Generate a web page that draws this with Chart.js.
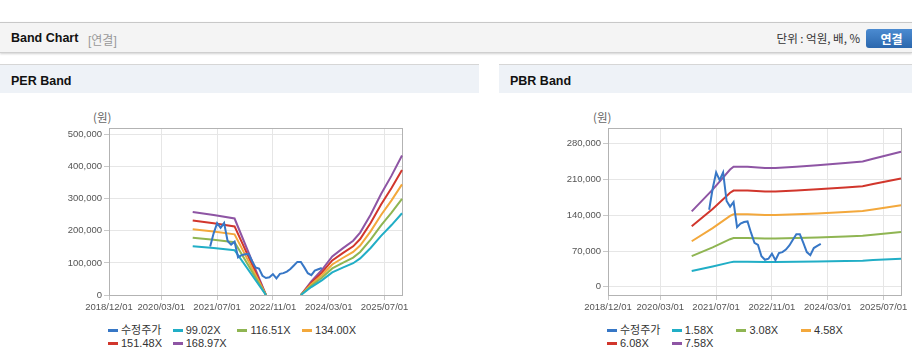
<!DOCTYPE html>
<html><head><meta charset="utf-8">
<script src="https://cdn.jsdelivr.net/npm/chart.js@4.4.1/dist/chart.umd.min.js"></script>
<style>
html,body{margin:0;padding:0;background:#fff;}
body{width:912px;height:364px;overflow:hidden;position:relative;font-family:'Liberation Sans',Arial,'Noto Sans CJK KR',sans-serif;color:#333;}
.abs{position:absolute;}
#topbar{left:0;top:22px;width:912px;height:29px;background:#f4f4f4;border-top:1px solid #c8c8c8;border-bottom:1px solid #cfcfcf;box-shadow:0 1px 2px rgba(0,0,0,0.18);}
.ttl{font-weight:bold;font-size:12.5px;color:#111;white-space:nowrap;}
.sub{font-size:12px;color:#999;white-space:nowrap;}
.unit{font-size:12px;color:#333;white-space:nowrap;}
#btn{left:866px;top:29px;width:51px;height:19px;border-radius:3px;background:linear-gradient(#4b8bd1,#2b67ad);color:#fff;font-weight:bold;font-size:12px;line-height:19px;text-align:center;font-family:'Noto Sans CJK KR',sans-serif;}
.phead{top:64px;height:28px;background:#eef2f7;border-top:1px solid #d6d6d6;}
.won{font-size:11.5px;color:#666;white-space:nowrap;font-family:'Noto Sans CJK KR',sans-serif;}
.legend{font-size:11px;color:#333;}
.legend .it{float:left;width:64.7px;height:13.3px;line-height:13.3px;white-space:nowrap;position:relative;}
.legend .mk{position:absolute;left:0;top:5px;width:10px;height:3px;}
.legend .tx{position:absolute;left:13px;top:0;}
</style></head>
<body>
<div id="topbar" class="abs">
  <span class="abs ttl" style="left:11px;top:8px;">Band Chart</span>
  <span class="abs sub" style="left:88px;top:8px;">[연결]</span>
  <span class="abs unit" style="right:52px;top:7px;font-family:'Noto Sans CJK KR',sans-serif;font-size:11.5px;">단위 : 억원, 배, %</span>
</div>
<div id="btn" class="abs">연결</div>

<div class="abs phead" style="left:0;width:479px;"><span class="abs ttl" style="left:11px;top:9px;">PER Band</span></div>
<div class="abs phead" style="left:499px;width:413px;"><span class="abs ttl" style="left:11px;top:9px;">PBR Band</span></div>

<span class="abs won" style="left:93px;top:109px;">(원)</span>
<span class="abs won" style="left:593px;top:109px;">(원)</span>

<canvas id="perChart" class="abs" width="479" height="230" style="left:0;top:93px;width:479px;height:230px;"></canvas>
<canvas id="pbrChart" class="abs" width="413" height="230" style="left:499px;top:93px;width:413px;height:230px;"></canvas>

<div id="perLegend" class="abs legend" style="left:108px;top:323.5px;width:262px;"></div>
<div id="pbrLegend" class="abs legend" style="left:607px;top:323.5px;width:262px;"></div>

<script>
// ---------- categories ----------
const firstMonth = [2018, 12];
const monthCount = 85; // 2018/12 .. 2025/12
const months = [];
for (let y = firstMonth[0], m = firstMonth[1]; months.length < monthCount;) {
  months.push(y + '/' + String(m).padStart(2, '0') + '/01');
  m++; if (m > 12) { m = 1; y++; }
}
const xTickLabels = ['2018/12/01', '2020/03/01', '2021/07/01', '2022/11/01', '2024/03/01', '2025/07/01'];

// ---------- price (수정주가), monthly from 2021/05 ----------
const priceStart = '2021/05/01';
const priceValues = [151000, 192000, 224000, 209000, 224000, 168000, 157000, 166000, 117000, 124000,
  127000, 128000, 106000, 86000, 82000, 60000, 53000, 55000, 65000, 52000,
  66000, 68000, 73000, 81000, 92000, 103000, 103000, 86000, 68000, 62000,
  76000, 80000, 84000];

// ---------- PER band ----------
const perBandLabels = ['99.02X', '116.51X', '134.00X', '151.48X', '168.97X'];
const perBandDates = ['2020/12/01', '2021/06/01', '2021/12/01', '2022/09/01', '2023/01/01', '2023/07/01',
  '2023/10/01', '2024/01/01', '2024/04/01', '2024/07/01', '2024/10/01', '2024/12/01',
  '2025/03/01', '2025/06/01', '2025/09/01', '2025/12/01'];
const per9902 = [151500, 146100, 139600, 0, null, 0, 24800, 45500, 70300, 85200, 99000, 113900, 146500, 184200, 217800, 254500];
const per11651 = [178300, 171900, 164300, 0, null, 0, 29100, 53600, 82700, 100200, 116500, 134000, 172400, 216700, 256300, 299400];
const per13400 = [205000, 197700, 188900, 0, null, 0, 33500, 61600, 95100, 115200, 134000, 154100, 198300, 249200, 294800, 344400];
const per15148 = [231800, 223400, 213600, 0, null, 0, 37900, 69700, 107600, 130300, 151500, 174200, 224200, 281800, 333300, 389300];
const per16897 = [258500, 249200, 238200, 0, null, 0, 42200, 77700, 120000, 145300, 169000, 194300, 250100, 314300, 371700, 434300];
const perYTicks = [0, 100000, 200000, 300000, 400000, 500000];
const perYRange = [0, 520000];

// ---------- PBR band ----------
const pbrBandLabels = ['1.58X', '3.08X', '4.58X', '6.08X', '7.58X'];
const pbrBandDates = ['2020/12/01', '2021/06/01', '2021/11/01', '2021/12/01', '2022/04/01', '2022/09/01',
  '2022/12/01', '2023/06/01', '2023/12/01', '2024/08/01', '2025/01/01', '2025/04/01', '2025/12/01'];
const pbr158 = [30800, 39700, 47900, 49000, 49000, 48500, 48500, 49000, 49600, 50600, 51200, 52300, 55100];
const pbr308 = [60100, 77300, 93300, 95500, 95500, 94600, 94600, 95500, 96700, 98600, 99800, 101900, 107500];
const pbr458 = [89300, 115000, 138800, 142000, 142000, 140600, 140600, 142000, 143800, 146600, 148400, 151600, 159800];
const pbr608 = [118600, 152600, 184200, 188500, 188500, 186700, 186700, 188500, 190900, 194600, 197000, 201200, 212200];
const pbr758 = [147800, 190300, 229700, 235000, 235000, 232700, 232700, 235000, 238000, 242600, 245600, 250900, 264500];
const pbrYTicks = [0, 70000, 140000, 210000, 280000];
const pbrYRange = [-16000, 311000];

// ---------- styles ----------
const priceLabel = '수정주가';
const priceColor = '#3777c6';
const bandColors = ['#21aec6', '#8fb552', '#f3a83c', '#d1362c', '#8e55a4'];

function pairs(dates, vals) { return dates.map((d, i) => ({x: d, y: vals[i]})); }
function pricePoints() {
  const s = months.indexOf(priceStart);
  return priceValues.map((v, i) => ({x: months[s + i], y: v}));
}

const frame = {
  id: 'frame',
  beforeDatasetsDraw(c) {
    const a = c.chartArea, ctx = c.ctx;
    ctx.save();
    ctx.strokeStyle = '#b3b3b3'; ctx.lineWidth = 1;
    ctx.strokeRect(Math.round(a.left) + 0.5, Math.round(a.top) + 0.5, Math.round(a.right - a.left), Math.round(a.bottom - a.top));
    ctx.restore();
  }
};

function makeChart(id, legendId, bandLabels, bandDates, bandSeries, yTicks, yRange, rightPad) {
  const datasets = [{label: priceLabel, data: pricePoints(), borderColor: priceColor, backgroundColor: priceColor}];
  bandSeries.forEach((vals, i) => datasets.push({
    label: bandLabels[i], data: pairs(bandDates, vals), borderColor: bandColors[i], backgroundColor: bandColors[i]
  }));
  const tickFont = {family: "'Liberation Sans', Arial, sans-serif", size: 9.5};
  const chart = new Chart(document.getElementById(id), {
    type: 'line',
    data: {labels: months, datasets},
    options: {
      responsive: false, animation: false, devicePixelRatio: 1,
      layout: {padding: {left: 0, right: rightPad, top: 35, bottom: 0}},
      elements: {line: {borderWidth: 2, tension: 0}, point: {radius: 0, hoverRadius: 0}},
      spanGaps: false,
      plugins: {legend: {display: false}, tooltip: {enabled: false}},
      scales: {
        x: {
          type: 'category',
          grid: {color: '#e6e6e6', tickLength: 5, drawTicks: true, tickColor: '#c8c8c8'},
          border: {color: '#b3b3b3'},
          ticks: {
            autoSkip: false, maxRotation: 0, minRotation: 0, padding: 2, font: tickFont, color: '#555',
            callback(value) { const l = this.getLabelForValue(value); return xTickLabels.includes(l) ? l : null; }
          },
          afterFit(s) { s.height = 28; }
        },
        y: {
          min: yRange[0], max: yRange[1],
          grid: {color: '#e6e6e6', tickLength: 5, drawTicks: true, tickColor: '#c8c8c8'},
          border: {color: '#b3b3b3'},
          ticks: {padding: 2, font: tickFont, color: '#555', callback: v => Number(v).toLocaleString('en-US')},
          afterBuildTicks(s) { s.ticks = yTicks.map(v => ({value: v})); },
          afterFit(s) { s.width = 109; }
        }
      }
    },
    plugins: [frame]
  });
  const lg = document.getElementById(legendId);
  chart.data.datasets.forEach(ds => {
    const it = document.createElement('div'); it.className = 'it';
    const mk = document.createElement('span'); mk.className = 'mk'; mk.style.background = ds.borderColor;
    const tx = document.createElement('span'); tx.className = 'tx'; tx.textContent = ds.label;
    it.appendChild(mk); it.appendChild(tx); lg.appendChild(it);
  });
  return chart;
}

makeChart('perChart', 'perLegend', perBandLabels, perBandDates, [per9902, per11651, per13400, per15148, per16897], perYTicks, perYRange, 77);
makeChart('pbrChart', 'pbrLegend', pbrBandLabels, pbrBandDates, [pbr158, pbr308, pbr458, pbr608, pbr758], pbrYTicks, pbrYRange, 11);
</script>
</body></html>
